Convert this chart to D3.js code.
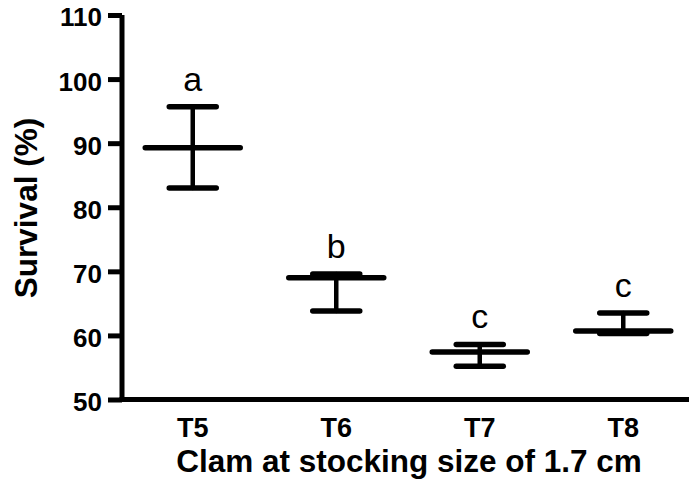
<!DOCTYPE html>
<html>
<head>
<meta charset="utf-8">
<script src="https://cdn.jsdelivr.net/npm/d3@7"></script>
<style>
  html, body { margin: 0; padding: 0; background: #fff; }
  svg { display: block; }
  text { font-family: "Liberation Sans", Arial, sans-serif; fill: #000; }
</style>
</head>
<body>
<div id="chart"></div>
<script>
const categories = ["T5", "T6", "T7", "T8"];
const means = [89.3, 69.0, 57.4, 60.7];
const upper = [95.7, 69.6, 58.6, 63.5];
const lower = [83.0, 63.8, 55.2, 60.3];
const letters = ["a", "b", "c", "c"];
const yTicks = [50, 60, 70, 80, 90, 100, 110];
const xTitle = "Clam at stocking size of 1.7 cm";
const yTitle = "Survival (%)";

const W = 689, H = 483;
const svg = d3.select("#chart").append("svg").attr("width", W).attr("height", H);

const x = d3.scaleBand().domain(categories).range([121, 695]);
const y = d3.scaleLinear().domain([50, 110]).range([399.5, 15]);

// Y axis
const yAxis = d3.axisLeft(y).tickValues(yTicks).tickSize(14).tickPadding(6).tickSizeOuter(0);
const gy = svg.append("g").attr("transform", "translate(122,0)").call(yAxis);
gy.select(".domain").attr("stroke", "#000").attr("stroke-width", 5).attr("d", `M0,${y(110)}V${y(50)+2.5}`);
gy.selectAll(".tick line").attr("stroke", "#000").attr("stroke-width", 5);
gy.selectAll(".tick text").attr("font-size", 26).attr("font-weight", "bold").attr("dy", "0.42em");

// X axis
const xAxis = d3.axisBottom(x).tickSize(0).tickPadding(19).tickSizeOuter(0);
const gx = svg.append("g").attr("transform", `translate(0,${y(50)})`).call(xAxis);
gx.select(".domain").attr("stroke", "#000").attr("stroke-width", 5).attr("d", `M119.5,0H${W}`);
gx.selectAll(".tick text").attr("font-size", 27).attr("font-weight", "bold").attr("dy", "0.68em");

// Titles
svg.append("text").attr("x", 409).attr("y", 472).attr("text-anchor", "middle")
  .attr("font-size", 31.5).attr("font-weight", "bold").text(xTitle);
svg.append("text").attr("transform", `translate(37,208) rotate(-90)`).attr("text-anchor", "middle")
  .attr("font-size", 31.5).attr("font-weight", "bold").text(yTitle);

// Error bars
const data = categories.map((c, i) => ({c, m: means[i], u: upper[i], l: lower[i], t: letters[i]}));
const g = svg.append("g").attr("stroke", "#000").attr("stroke-linecap", "round").attr("fill", "none");
const cx = d => x(d.c) + x.bandwidth() / 2;
data.forEach(d => {
  const c = cx(d);
  g.append("line").attr("x1", c).attr("x2", c).attr("y1", y(d.u)).attr("y2", y(d.l)).attr("stroke-width", 4.5);
  g.append("line").attr("x1", c - 23.5).attr("x2", c + 23.5).attr("y1", y(d.u)).attr("y2", y(d.u)).attr("stroke-width", 5.5);
  g.append("line").attr("x1", c - 23.5).attr("x2", c + 23.5).attr("y1", y(d.l)).attr("y2", y(d.l)).attr("stroke-width", 5.5);
  g.append("line").attr("x1", c - 47.5).attr("x2", c + 47.5).attr("y1", y(d.m)).attr("y2", y(d.m)).attr("stroke-width", 5.5);
  svg.append("text").attr("x", c).attr("y", y(d.u) - 16).attr("text-anchor", "middle")
    .attr("font-size", 34).text(d.t);
});
</script>
</body>
</html>
